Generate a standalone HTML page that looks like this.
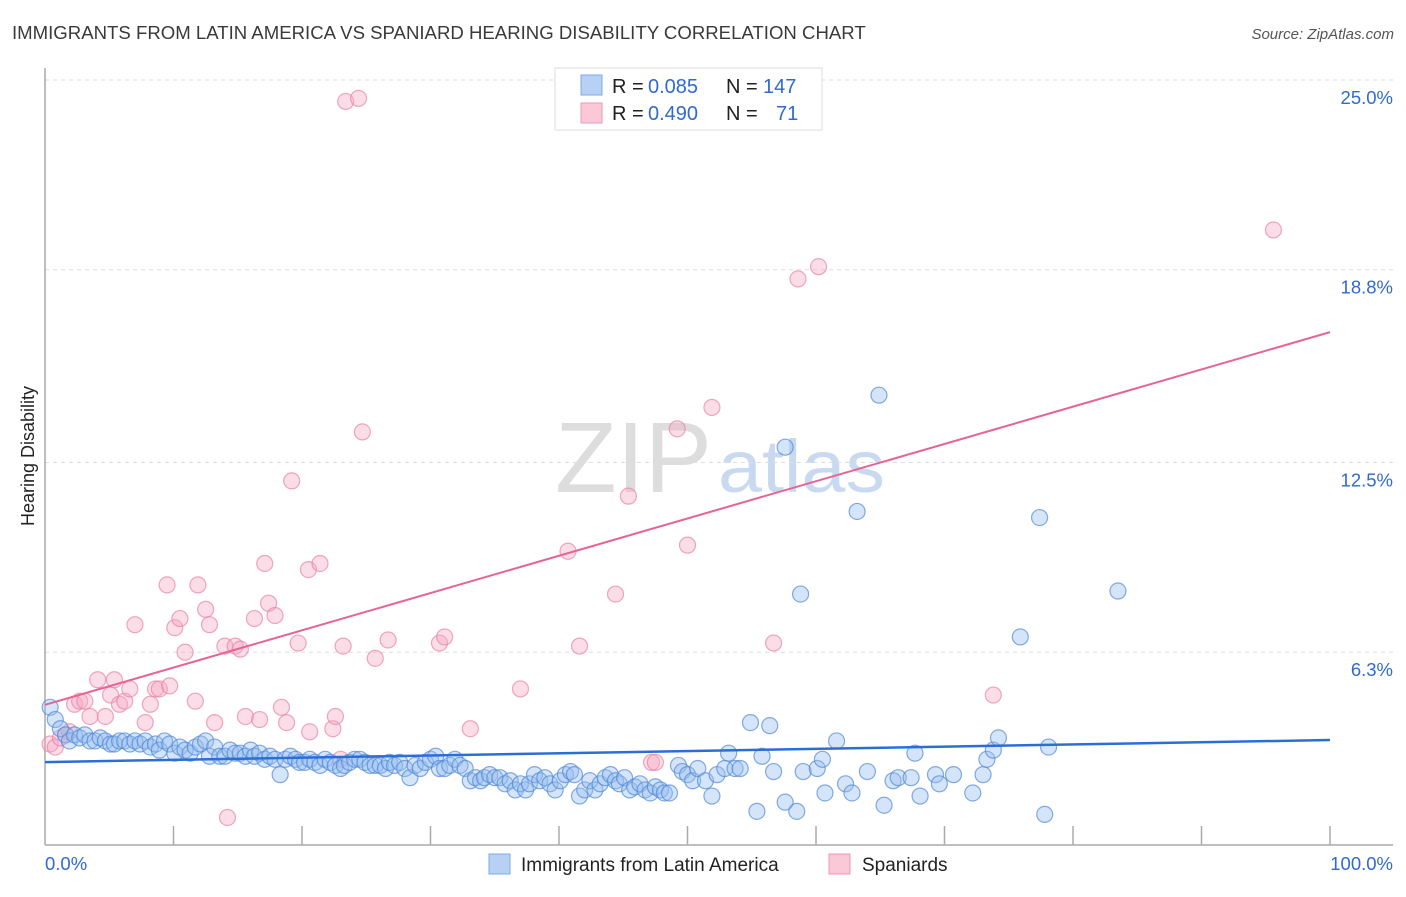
<!DOCTYPE html>
<html><head><meta charset="utf-8"><style>
body{margin:0;background:#fff;font-family:"Liberation Sans",sans-serif;}
svg text{font-family:"Liberation Sans",sans-serif;}
</style></head><body>
<svg id="chart" width="1406" height="892" viewBox="0 0 1406 892">
<text x="12" y="39" font-size="18.6" fill="#3a3a3a">IMMIGRANTS FROM LATIN AMERICA VS SPANIARD HEARING DISABILITY CORRELATION CHART</text>
<text x="1394" y="39" font-size="15" fill="#555" font-style="italic" text-anchor="end">Source: ZipAtlas.com</text>
<text x="34" y="456" font-size="18" fill="#222" text-anchor="middle" transform="rotate(-90 34 456)">Hearing Disability</text>
<g><text x="555" y="492" font-size="100" fill="#ddd" font-family="Liberation Serif" textLength="157" lengthAdjust="spacingAndGlyphs">ZIP</text><text x="718" y="492" font-size="74" fill="#c9daf0" textLength="167" lengthAdjust="spacingAndGlyphs">atlas</text></g>
<g id="grid"></g><g id="axes"></g><g id="marks"></g>
<g>
<rect x="555" y="68" width="267" height="62" fill="#fff" stroke="#ddd"/>
<rect x="581" y="75" width="21" height="20" fill="#b7d1f5" stroke="#7ea9e6"/>
<rect x="581" y="103" width="21" height="20" fill="#fac8d7" stroke="#ec9ab4"/>
<text x="612" y="93" font-size="20" fill="#222">R =</text>
<text x="648" y="93" font-size="20" fill="#2f6ad0">0.085</text>
<text x="726" y="93" font-size="20" fill="#222">N =</text>
<text x="763" y="93" font-size="20" fill="#2f6ad0">147</text>
<text x="612" y="120" font-size="20" fill="#222">R =</text>
<text x="648" y="120" font-size="20" fill="#2f6ad0">0.490</text>
<text x="726" y="120" font-size="20" fill="#222">N =</text>
<text x="776" y="120" font-size="20" fill="#2f6ad0">71</text>
</g>
<g>
<rect x="489" y="854" width="21" height="20" fill="#b7d1f5" stroke="#7ea9e6"/>
<text x="521" y="871" font-size="19" fill="#222">Immigrants from Latin America</text>
<rect x="829" y="854" width="21" height="20" fill="#fac8d7" stroke="#ec9ab4"/>
<text x="862" y="871" font-size="19" fill="#222">Spaniards</text>
</g>
</svg>
<script>
const yTicks=[6.3,12.5,18.8,25.0];
const yTickLabels=["6.3%","12.5%","18.8%","25.0%"];
const xTicks=[10,20,30,40,50,60,70,80,90,100];
const blueTrend=[2.71,3.43];
const pinkTrend=[4.58,16.76];
const pinkX=[0.4,0.8,1.2,1.6,1.9,2.3,2.7,3.1,3.5,4.1,4.7,5.1,5.4,5.8,6.2,6.6,7.0,7.8,8.2,8.6,8.9,9.5,9.7,10.1,10.5,10.9,11.7,11.9,12.5,12.8,13.2,14.0,14.8,15.2,15.6,16.3,16.7,17.1,17.4,17.9,18.4,18.8,19.2,19.7,20.5,20.6,21.4,22.4,22.6,23.0,23.2,23.4,24.4,24.7,25.7,26.7,30.7,31.1,33.1,37.0,40.7,41.6,44.4,45.4,47.2,47.5,49.2,50.0,51.9,56.7,58.6,60.2,73.8,95.6,14.2];
const pinkY=[3.3,3.2,3.5,3.6,3.7,4.6,4.7,4.7,4.2,5.4,4.2,4.9,5.4,4.6,4.7,5.1,7.2,4.0,4.6,5.1,5.1,8.5,5.2,7.1,7.4,6.3,4.7,8.5,7.7,7.2,4.0,6.5,6.5,6.4,4.2,7.4,4.1,9.2,7.9,7.5,4.5,4.0,11.9,6.6,9.0,3.7,9.2,3.8,4.2,2.8,6.5,24.3,24.4,13.5,6.1,6.7,6.6,6.8,3.8,5.1,9.6,6.5,8.2,11.4,2.7,2.7,13.6,9.8,14.3,6.6,18.5,18.9,4.9,20.1,0.9];
const blueX=[0.4,0.8,1.2,1.6,1.9,2.3,2.7,3.1,3.5,3.9,4.3,4.7,5.1,5.4,5.8,6.2,6.6,7.0,7.4,7.8,8.2,8.6,8.9,9.3,9.7,10.1,10.5,10.9,11.3,11.7,12.1,12.5,12.8,13.2,13.6,14.0,14.4,14.8,15.2,15.6,16.0,16.3,16.7,17.1,17.5,17.9,18.3,18.7,19.1,19.5,19.8,20.2,20.6,21.0,21.4,21.8,22.2,22.6,23.0,23.3,23.7,24.1,24.5,24.9,25.3,25.7,26.1,26.5,26.8,27.2,27.6,28.0,28.4,28.8,29.2,29.6,30.0,30.4,30.7,31.1,31.5,31.9,32.3,32.7,33.1,33.5,33.9,34.2,34.6,35.0,35.4,35.8,36.2,36.6,37.0,37.4,37.7,38.1,38.5,38.9,39.3,39.7,40.1,40.5,40.9,41.2,41.6,42.0,42.4,42.8,43.2,43.6,44.0,44.4,44.7,45.1,45.5,45.9,46.3,46.7,47.1,47.5,47.9,48.2,48.6,49.3,49.6,50.0,50.4,50.8,51.4,51.9,52.3,52.9,53.2,53.7,54.1,54.9,55.4,55.8,56.4,56.7,57.6,57.6,58.5,58.8,59.0,60.1,60.5,60.7,61.6,62.3,62.8,63.2,64.0,64.9,65.3,66.0,66.4,67.4,67.7,68.1,69.3,69.6,70.7,72.2,73.0,73.3,73.8,74.2,75.9,77.4,77.8,78.1,83.5];
const blueY=[4.5,4.1,3.8,3.6,3.4,3.6,3.5,3.6,3.4,3.4,3.5,3.4,3.3,3.3,3.4,3.4,3.3,3.4,3.3,3.4,3.2,3.3,3.1,3.4,3.3,3.0,3.2,3.1,3.0,3.2,3.3,3.4,2.9,3.2,2.9,2.9,3.1,3.0,3.0,2.9,3.1,2.9,3.0,2.8,2.9,2.8,2.3,2.8,2.9,2.8,2.7,2.7,2.8,2.7,2.6,2.8,2.7,2.6,2.5,2.6,2.7,2.8,2.8,2.7,2.6,2.6,2.6,2.5,2.7,2.6,2.7,2.5,2.2,2.6,2.5,2.7,2.8,2.9,2.5,2.5,2.6,2.8,2.6,2.5,2.1,2.2,2.1,2.2,2.3,2.2,2.2,2.0,2.1,1.8,2.0,1.8,2.0,2.3,2.1,2.2,2.0,1.8,2.1,2.3,2.4,2.3,1.6,1.8,2.1,1.8,2.0,2.2,2.3,2.1,2.0,2.2,1.8,1.9,2.0,1.8,1.7,1.9,1.8,1.7,1.7,2.6,2.4,2.3,2.1,2.5,2.1,1.6,2.3,2.5,3.0,2.5,2.5,4.0,1.1,2.9,3.9,2.4,13.0,1.4,1.1,8.2,2.4,2.5,2.8,1.7,3.4,2.0,1.7,10.9,2.4,14.7,1.3,2.1,2.2,2.2,3.0,1.6,2.3,2.0,2.3,1.7,2.3,2.8,3.1,3.5,6.8,10.7,1.0,3.2,8.3];

const NS="http://www.w3.org/2000/svg";
const X0=45,X1=1330,Y0=845,PPU=30.6;
function xs(v){return X0+(X1-X0)*v/100;}
function ys(v){return Y0-PPU*v;}
function mk(tag,attrs,parent){const e=document.createElementNS(NS,tag);for(const k in attrs)e.setAttribute(k,attrs[k]);parent.appendChild(e);return e;}
const grid=document.getElementById('grid'),axes=document.getElementById('axes'),marks=document.getElementById('marks');
yTicks.forEach((t,i)=>{
  const l=mk('line',{x1:X0,x2:1393,y1:ys(t),y2:ys(t),stroke:'#ddd','stroke-dasharray':'4,4'},grid);
  
  
  const tx=mk('text',{x:1393,y:ys(t)+24,'font-size':18.5,fill:'#2f6ad0','text-anchor':'end'},axes);
  tx.textContent=yTickLabels[i];
  
  
});
const ya=mk('line',{x1:X0,x2:X0,y1:68,y2:Y0,stroke:'#aaa','stroke-width':1.5},axes);


const xa=mk('line',{x1:X0,x2:1393,y1:Y0,y2:Y0,stroke:'#aaa','stroke-width':1.5},axes);


xTicks.forEach(t=>{
  const l=mk('line',{x1:xs(t),x2:xs(t),y1:Y0-19,y2:Y0,stroke:'#aaa','stroke-width':1.5},axes);
  
  
});
const xl0=mk('text',{x:X0,y:870,'font-size':18.5,fill:'#2f6ad0'},axes);xl0.textContent='0.0%';


const xl1=mk('text',{x:1393,y:870,'font-size':18.5,fill:'#2f6ad0','text-anchor':'end'},axes);xl1.textContent='100.0%';


pinkX.forEach((v,i)=>{
  const c=mk('circle',{cx:xs(v),cy:ys(pinkY[i]),r:8,fill:'rgba(245,170,195,0.4)',stroke:'rgba(232,130,165,0.7)','stroke-width':1.2},marks);
  
  
});
blueX.forEach((v,i)=>{
  const c=mk('circle',{cx:xs(v),cy:ys(blueY[i]),r:8,fill:'rgba(150,190,240,0.4)',stroke:'rgba(80,135,215,0.7)','stroke-width':1.2},marks);
  
  
});
const bt=mk('line',{x1:xs(0),x2:xs(100),y1:ys(blueTrend[0]),y2:ys(blueTrend[1]),stroke:'#2b6fd6','stroke-width':2.5},marks);


const pt=mk('line',{x1:xs(0),x2:xs(100),y1:ys(pinkTrend[0]),y2:ys(pinkTrend[1]),stroke:'#e56495','stroke-width':2},marks);


</script>
</body></html>
